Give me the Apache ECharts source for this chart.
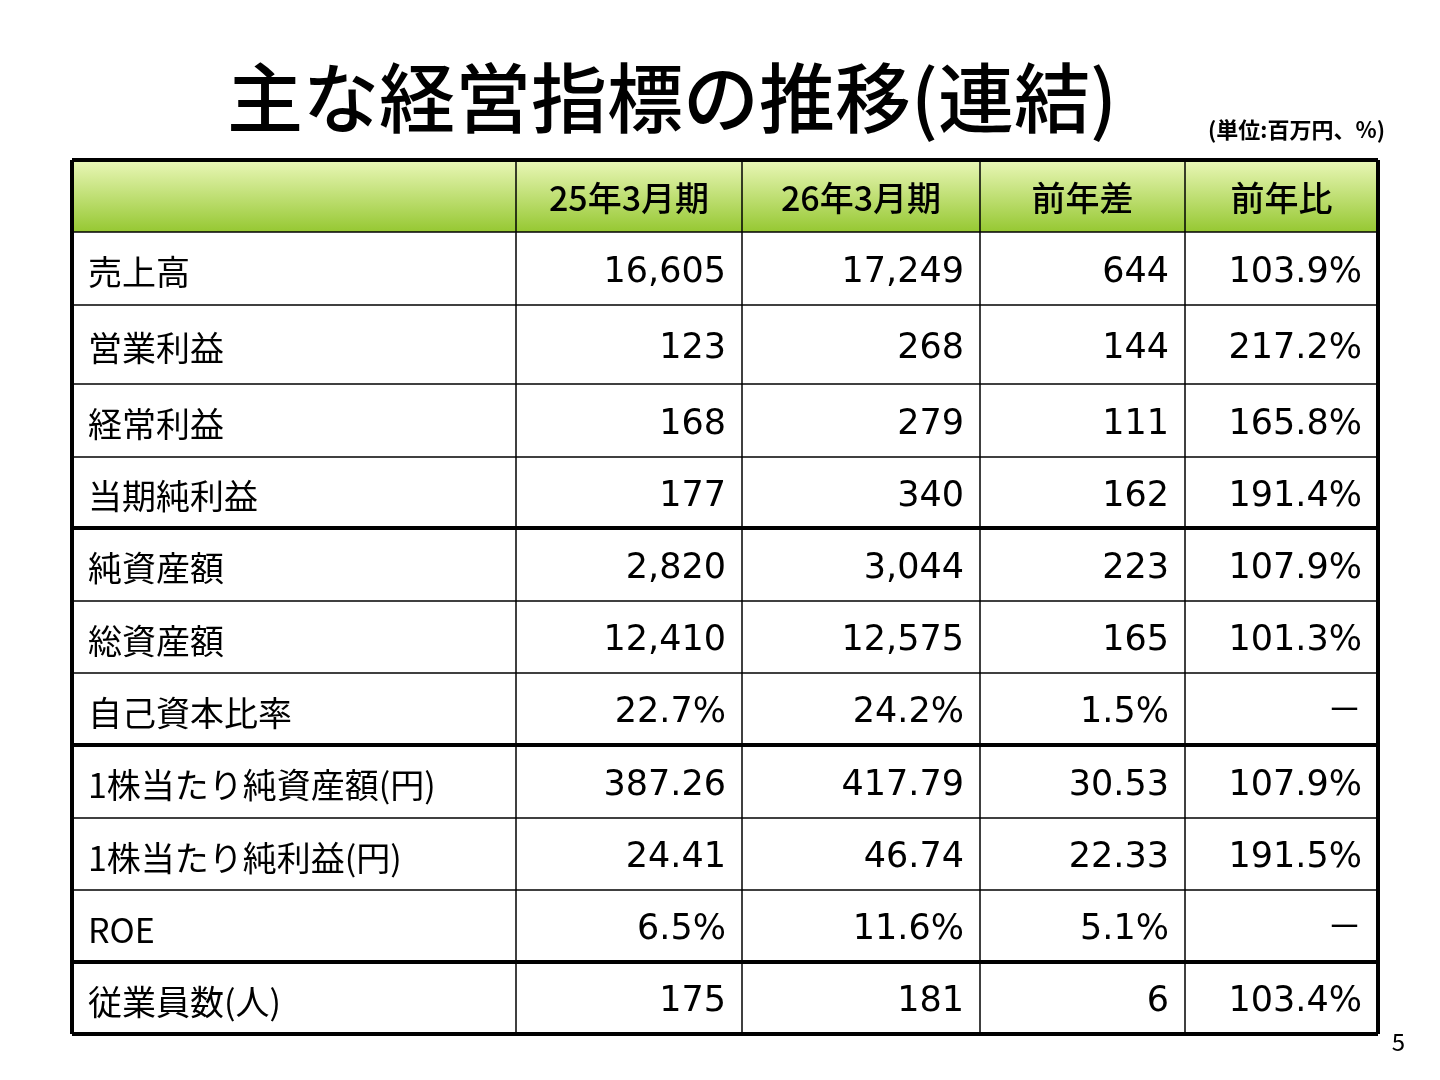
<!DOCTYPE html>
<html><head><meta charset="utf-8">
<script src="https://cdn.jsdelivr.net/npm/echarts@6/dist/echarts.min.js"></script>
<style>html,body{margin:0;background:#fff}#main{width:1440px;height:1080px}</style>
</head><body><div id="main"></div>
<script>
// 主な経営指標の推移（連結）
var headers = ['', '25年3月期', '26年3月期', '前年差', '前年比'];
var rowLabels = ['売上高', '営業利益', '経常利益', '当期純利益', '純資産額', '総資産額', '自己資本比率',
    '1株当たり純資産額(円)', '1株当たり純利益(円)', 'ROE', '従業員数(人)'];
var fy25 = ['16,605', '123', '168', '177', '2,820', '12,410', '22.7%', '387.26', '24.41', '6.5%', '175'];
var fy26 = ['17,249', '268', '279', '340', '3,044', '12,575', '24.2%', '417.79', '46.74', '11.6%', '181'];
var diff = ['644', '144', '111', '162', '223', '165', '1.5%', '30.53', '22.33', '5.1%', '6'];
var ratio = ['103.9%', '217.2%', '165.8%', '191.4%', '107.9%', '101.3%', '－', '107.9%', '191.5%', '－', '103.4%'];
var groupEnds = [3, 6, 9]; // 太線の入る行

var colX = [72, 516, 742, 980, 1185, 1378];
var rowY = [160, 232, 305, 384, 457, 528, 601, 673, 745, 818, 890, 962, 1034];
var font = '"Noto Sans CJK JP", "Noto Sans", sans-serif';
var numFont = '"DejaVu Sans", "Noto Sans CJK JP", sans-serif';

var g = [];
// ヘッダー背景
g.push({ type: 'rect', shape: { x: colX[0], y: rowY[0], width: colX[5] - colX[0], height: rowY[1] - rowY[0] },
    style: { fill: new echarts.graphic.LinearGradient(0, 0, 0, 1, [
        { offset: 0, color: '#eaf7b8' }, { offset: 1, color: '#96c832' }]) } });
headers.forEach(function (h, i) {
    if (!h) return;
    g.push({ type: 'text', x: (colX[i] + colX[i + 1]) / 2, y: (rowY[0] + rowY[1]) / 2 + 2,
        style: { text: h, font: '500 34px ' + font, fill: '#000', align: 'center', verticalAlign: 'middle' } });
});
var cols = [fy25, fy26, diff, ratio];
rowLabels.forEach(function (lab, r) {
    var cy = (rowY[r + 1] + rowY[r + 2]) / 2 + 4;
    g.push({ type: 'text', x: 88, y: cy,
        style: { text: lab, font: '34px ' + font, fill: '#000', align: 'left', verticalAlign: 'middle' } });
    cols.forEach(function (c, j) {
        g.push({ type: 'text', x: colX[j + 2] - 16, y: cy,
            style: { text: c[r], font: '35px ' + numFont, fill: '#000', align: 'right', verticalAlign: 'middle' } });
    });
});
// 罫線
rowY.forEach(function (y, i) {
    var thick = i === 0 || i === rowY.length - 1 || groupEnds.indexOf(i - 2) >= 0;
    g.push({ type: 'line', shape: { x1: colX[0], y1: y, x2: colX[5], y2: y },
        style: { stroke: '#000', lineWidth: thick ? 4 : 1.5 } });
});
colX.forEach(function (x, i) {
    var edge = i === 0 || i === colX.length - 1;
    g.push({ type: 'line', shape: { x1: x, y1: rowY[0], x2: x, y2: rowY[rowY.length - 1] },
        style: { stroke: '#000', lineWidth: edge ? 4 : 1.5 } });
});
// タイトル
g.push({ type: 'text', x: 672, y: 98, style: { text: '主な経営指標の推移(連結)', font: '500 76px ' + font,
    fill: '#000', align: 'center', verticalAlign: 'middle' } });
g.push({ type: 'text', x: 1385, y: 130, style: { text: '(単位:百万円、%)', font: 'bold 22px ' + font,
    fill: '#000', align: 'right', verticalAlign: 'middle' } });
g.push({ type: 'text', x: 1405, y: 1042, style: { text: '5', font: '24px ' + font,
    fill: '#000', align: 'right', verticalAlign: 'middle' } });

var chart = echarts.init(document.getElementById('main'));
chart.setOption({ backgroundColor: '#fff', graphic: g });
</script></body></html>
